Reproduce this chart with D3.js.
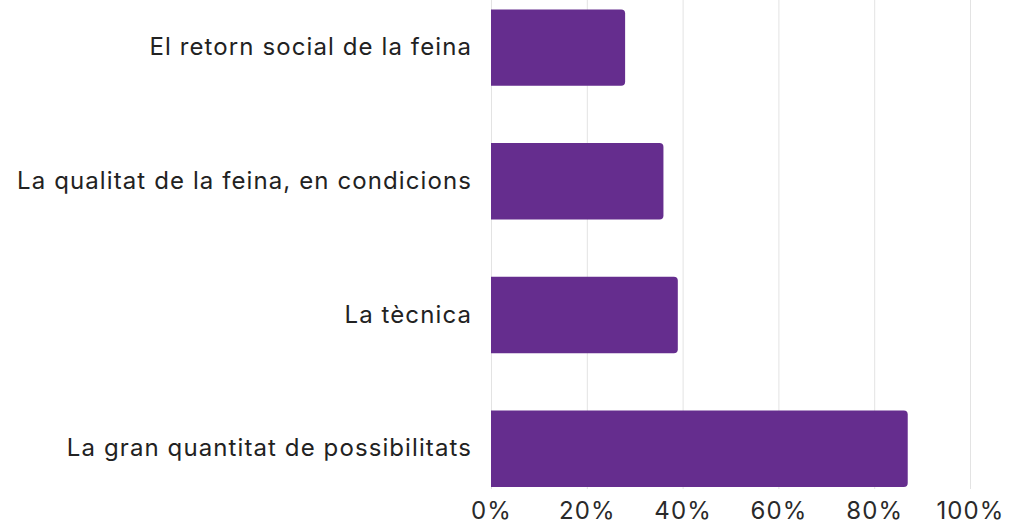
<!DOCTYPE html>
<html><head><meta charset="utf-8">
<script src="https://cdn.jsdelivr.net/npm/d3@7"></script>
<style>html,body{margin:0;padding:0;background:#fff;} svg{display:block;}</style>
</head><body>
<svg id="chart" width="1013" height="524"></svg>
<script>
const categories = ["El retorn social de la feina", "La qualitat de la feina, en condicions", "La tècnica", "La gran quantitat de possibilitats"];
const values = [28, 36, 39, 87];
const tickValues = [0, 20, 40, 60, 80, 100];
const tickLabels = ["0%", "20%", "40%", "60%", "80%", "100%"];

const svg = d3.select("#chart");
const x = d3.scaleLinear().domain([0, 100]).range([491, 970]);
const y = d3.scaleBand().domain(categories).range([-19.2, 515.5]).paddingInner(0.428).paddingOuter(0.214);

const font = "Inter, 'Noto Sans', sans-serif";

// gridlines
svg.append("g").selectAll("line").data(tickValues).join("line")
  .attr("x1", d => x(d) + 0.5).attr("x2", d => x(d) + 0.5)
  .attr("y1", 0).attr("y2", 489)
  .attr("stroke", "#e3e3e3").attr("stroke-width", 1);

// bars with rounded right corners
const r = 4;
svg.append("g").selectAll("path").data(values).join("path")
  .attr("d", (d, i) => {
    const x0 = x(0), x1 = x(d), y0 = y(categories[i]), h = y.bandwidth();
    return `M${x0},${y0} H${x1 - r} Q${x1},${y0} ${x1},${y0 + r} V${y0 + h - r} Q${x1},${y0 + h} ${x1 - r},${y0 + h} H${x0} Z`;
  })
  .attr("fill", "#652d8e");

// x axis labels
const xAxis = d3.axisBottom(x).tickValues(tickValues).tickFormat((d, i) => tickLabels[i]).tickSize(0).tickPadding(0);
const gx = svg.append("g").attr("transform", "translate(0,519)").call(xAxis);
gx.select(".domain").remove();
gx.selectAll("text").attr("font-family", font).attr("font-size", 24).attr("letter-spacing", "1.1px")
  .attr("fill", "#2a2a2a").attr("y", 0).attr("dy", 0);

// y axis labels
const yAxis = d3.axisLeft(y).tickSize(0).tickPadding(19);
const gy = svg.append("g").attr("transform", `translate(${x(0)},0)`).call(yAxis);
gy.select(".domain").remove();
gy.selectAll("text").attr("font-family", font).attr("font-size", 24).attr("letter-spacing", "1.1px").attr("fill", "#222");
</script>
</body></html>
